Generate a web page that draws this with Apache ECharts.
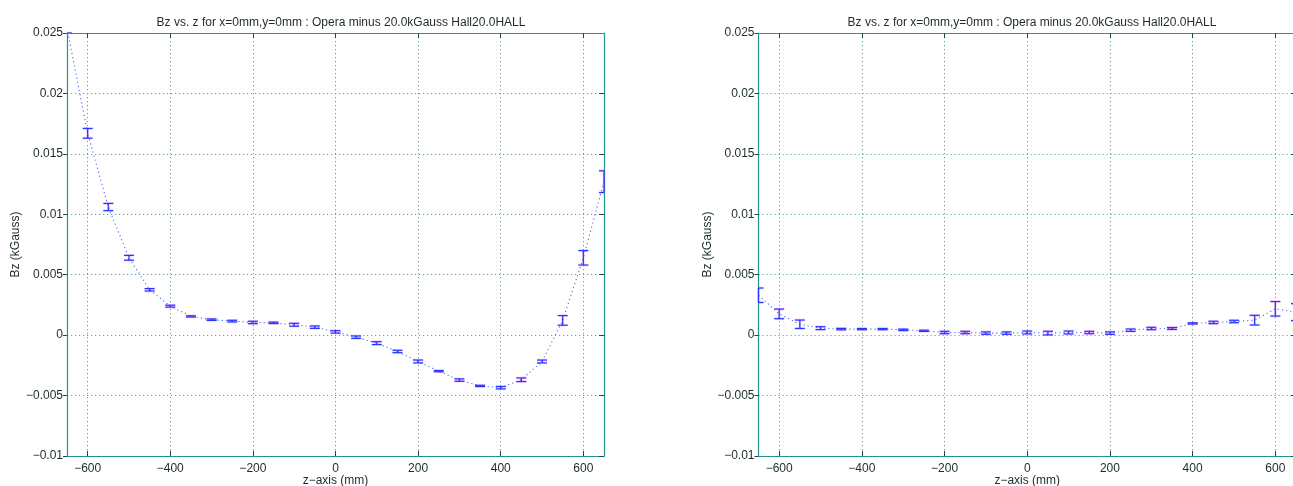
<!DOCTYPE html>
<html>
<head>
<meta charset="utf-8">
<script src="https://cdn.jsdelivr.net/npm/echarts@6/dist/echarts.min.js"></script>
<style>
  html, body { margin: 0; padding: 0; background: #fff; }
  #chart { width: 1293px; height: 486px; }
</style>
</head>
<body>
<div id="chart"></div>
<script>
// Measurement positions along the z axis (mm)
const zPositions = [-650, -600, -550, -500, -450, -400, -350, -300, -250, -200, -150, -100, -50,
                    0, 50, 100, 150, 200, 250, 300, 350, 400, 450, 500, 550, 600, 650];

// Left panel: Bz difference (kGauss) and its uncertainty
const leftBz = [0.0254, 0.0167, 0.0106, 0.0064, 0.00375, 0.0024, 0.00155, 0.00128, 0.00116, 0.00105,
                0.00102, 0.00086, 0.00066, 0.00027, -0.00017, -0.00066, -0.00135, -0.00218, -0.00298,
                -0.00372, -0.0042, -0.00435, -0.00369, -0.00218, 0.00122, 0.0064, 0.0127];
const leftErr = [0.0004, 0.0004, 0.0003, 0.0002, 0.0001, 0.00008, 0.00005, 0.00006, 0.00007, 0.0001,
                 0.00006, 0.00012, 0.0001, 0.0001, 0.0001, 0.00012, 0.0001, 0.00012, 0.00005,
                 0.0001, 0.00005, 0.0001, 0.00015, 0.00012, 0.0004, 0.0006, 0.0009];

// Right panel: Bz difference (kGauss) and its uncertainty
const rightBz = [0.0033, 0.00176, 0.0009, 0.00058, 0.0005, 0.0005, 0.0005, 0.00044, 0.00036, 0.00022,
                 0.00022, 0.00017, 0.00017, 0.00022, 0.00017, 0.00022, 0.00022, 0.00017, 0.00041,
                 0.00055, 0.00055, 0.00097, 0.00105, 0.00113, 0.00124, 0.00218, 0.0019];
const rightErr = [0.0006, 0.0004, 0.00035, 0.00012, 0.00006, 0.00005, 0.00005, 0.00006, 0.00005, 0.0001,
                  0.0001, 0.0001, 0.0001, 0.00012, 0.00015, 0.00012, 0.0001, 0.0001, 0.0001,
                  0.0001, 0.00008, 0.00005, 0.0001, 0.0001, 0.0004, 0.0006, 0.0007];

// Axis ticks
const xTicks = [-600, -400, -200, 0, 200, 400, 600];
const yMin = -0.01, yMax = 0.025, yStep = 0.005;
const xMin = -650, xMax = 650;

const titleText = 'Bz vs. z for x=0mm,y=0mm : Opera minus 20.0kGauss Hall20.0HALL';
const xName = 'z\u2212axis (mm)';
const yName = 'Bz (kGauss)';

const TEAL = '#23958d';
const GRIDDOT = '#3fb0a8';
const RED = '#e8433f';
const TEXT = '#1d2b2b';
const FONT = 'Liberation Sans, Arial, sans-serif';

const minus = s => String(s).replace('-', '\u2212');

function errorBarRenderer(params, api) {
  const cs = params.coordSys;
  const x = api.value(0), v = api.value(1), e = api.value(2);
  const top = api.coord([x, v + e]);
  const bot = api.coord([x, v - e]);
  const yTop = Math.max(top[1], cs.y);
  const yBot = Math.min(bot[1], cs.y + cs.height);
  if (yTop > yBot) return null;
  const px = top[0];
  const half = 5;
  const xl = Math.max(px - half, cs.x), xr = Math.min(px + half, cs.x + cs.width);
  const segs = [[px, yTop, px, yBot]];
  if (top[1] >= cs.y) segs.push([xl, top[1], xr, top[1]]);
  if (bot[1] <= cs.y + cs.height) segs.push([xl, bot[1], xr, bot[1]]);
  const children = [];
  segs.forEach(s => children.push({
    type: 'line', shape: { x1: s[0], y1: s[1], x2: s[2], y2: s[3] },
    style: { stroke: 'rgba(235,90,235,0.28)', lineWidth: 2.6 }
  }));
  segs.forEach(s => children.push({
    type: 'line', shape: { x1: s[0], y1: s[1], x2: s[2], y2: s[3] },
    style: { stroke: '#2238ff', lineWidth: 1.2 }
  }));
  return { type: 'group', children };
}

function bottomAxis(gridIndex) {
  return {
    type: 'value', gridIndex, position: 'bottom', min: xMin, max: xMax,
    axisLine: { onZero: false, lineStyle: { color: TEAL, width: 1.2 } },
    axisTick: { inside: true, length: 5, customValues: xTicks, lineStyle: { color: '#1d4a46' } },
    axisLabel: { customValues: xTicks, margin: 7, color: TEXT, fontSize: 12, fontFamily: FONT,
                 formatter: v => minus(v) },
    splitLine: { show: true, lineStyle: { color: GRIDDOT, type: [1.2, 2.8], width: 1 } },
    name: xName, nameLocation: 'middle', nameGap: 19, nameMoveOverlap: false,
    nameTextStyle: { color: TEXT, fontSize: 12, fontFamily: FONT }
  };
}
function topAxis(gridIndex) {
  return {
    type: 'value', gridIndex, position: 'top', min: xMin, max: xMax,
    axisLine: { show: true, onZero: false, lineStyle: { color: RED, width: 1.2 } },
    axisTick: { show: true, inside: true, length: 5, customValues: xTicks, lineStyle: { color: '#1d4a46' } },
    axisLabel: { show: false }, splitLine: { show: false }, z: 10
  };
}
function leftAxis(gridIndex) {
  return {
    type: 'value', gridIndex, position: 'left', min: yMin, max: yMax, interval: yStep,
    axisLine: { show: true, onZero: false, lineStyle: { color: TEAL, width: 1.2 } },
    axisTick: { show: true, inside: false, length: 4, lineStyle: { color: '#1d4a46' } },
    axisLabel: { margin: 4, color: TEXT, fontSize: 12, fontFamily: FONT,
                 formatter: v => minus(parseFloat(Number(v).toFixed(4))) },
    splitLine: { show: true, showMinLine: false, showMaxLine: false,
                 lineStyle: { color: GRIDDOT, type: [1.2, 2.8], width: 1 } },
    name: yName, nameLocation: 'middle', nameGap: 40,
    nameTextStyle: { color: TEXT, fontSize: 12, fontFamily: FONT }
  };
}
function rightAxis(gridIndex) {
  return {
    type: 'value', gridIndex, position: 'right', min: yMin, max: yMax, interval: yStep,
    axisLine: { show: true, onZero: false, lineStyle: { color: TEAL, width: 1.2 } },
    axisTick: { show: true, inside: true, length: 5, lineStyle: { color: '#1d4a46' } },
    axisLabel: { show: false }, splitLine: { show: false }
  };
}

function panelSeries(axisBase, values, errs) {
  const pts = zPositions.map((z, i) => [z, values[i]]);
  const bars = zPositions.map((z, i) => [z, values[i], errs[i]]);
  return [
    {
      type: 'line', xAxisIndex: axisBase, yAxisIndex: axisBase, data: pts,
      showSymbol: false, symbol: 'none', clip: true, silent: true,
      lineStyle: { color: '#4a6cff', width: 1.1, type: [1.2, 3] }, z: 3
    },
    {
      type: 'custom', xAxisIndex: axisBase, yAxisIndex: axisBase, data: bars,
      renderItem: errorBarRenderer, silent: true, z: 4
    }
  ];
}

const chart = echarts.init(document.getElementById('chart'), null, { renderer: 'canvas' });
chart.setOption({
  animation: false,
  backgroundColor: '#ffffff',
  title: [
    { text: titleText, left: 336, top: 12, textAlign: 'center',
      textStyle: { fontSize: 12, fontWeight: 'normal', color: TEXT, fontFamily: FONT } },
    { text: titleText, left: 1027, top: 12, textAlign: 'center',
      textStyle: { fontSize: 12, fontWeight: 'normal', color: TEXT, fontFamily: FONT } }
  ],
  grid: [
    { left: 67, top: 33, width: 537, height: 423, outerBoundsMode: 'none', containLabel: false },
    { left: 758.5, top: 33, width: 537.5, height: 423, outerBoundsMode: 'none', containLabel: false }
  ],
  xAxis: [bottomAxis(0), topAxis(0), bottomAxis(1), topAxis(1)],
  yAxis: [leftAxis(0), rightAxis(0), leftAxis(1), rightAxis(1)],
  series: [
    ...panelSeries(0, leftBz, leftErr),
    ...panelSeries(2, rightBz, rightErr)
  ]
});
</script>
</body>
</html>
